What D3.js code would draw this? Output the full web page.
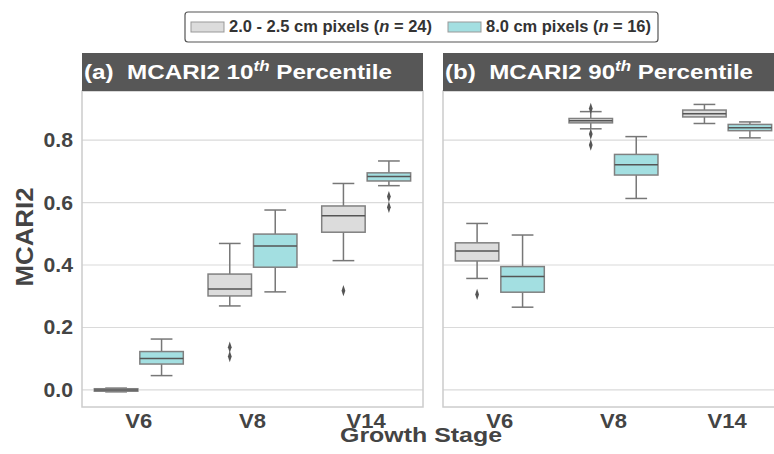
<!DOCTYPE html>
<html>
<head>
<meta charset="utf-8">
<script src="https://cdn.jsdelivr.net/npm/d3@7"></script>
<style>
  body { margin: 0; background: #fff; }
  text { font-family: "Liberation Sans", Arial, sans-serif; font-weight: bold; }
</style>
</head>
<body>
<svg id="chart" width="774" height="454"></svg>
<script>
// growth stages (x categories)
var stages = ["V6", "V8", "V14"];
var groups = ["2.0 - 2.5 cm pixels", "8.0 cm pixels"];
var groupN = [24, 16];
var yTicks = [0.0, 0.2, 0.4, 0.6, 0.8];

// box stats per stage: [whiskerLow, q1, median, q3, whiskerHigh]
var p10Fine   = [[-0.006, -0.004, 0.000, 0.004, 0.006], [0.269, 0.301, 0.323, 0.371, 0.469], [0.414, 0.505, 0.558, 0.589, 0.661]];
var p10Coarse = [[0.046, 0.083, 0.101, 0.123, 0.163], [0.314, 0.393, 0.461, 0.499, 0.576], [0.654, 0.669, 0.683, 0.695, 0.733]];
var p90Fine   = [[0.357, 0.413, 0.445, 0.471, 0.533], [0.836, 0.855, 0.862, 0.869, 0.891], [0.853, 0.874, 0.884, 0.896, 0.914]];
var p90Coarse = [[0.265, 0.313, 0.363, 0.395, 0.496], [0.613, 0.688, 0.721, 0.754, 0.811], [0.807, 0.830, 0.839, 0.850, 0.858]];

// outliers per stage
var p10FineOut   = [[], [0.137, 0.107], [0.318]];
var p10CoarseOut = [[], [], [0.619, 0.585]];
var p90FineOut   = [[0.306], [0.901, 0.819, 0.784], []];
var p90CoarseOut = [[], [], []];

var colors = ["#dcdcdc", "#a3dfe1"];

var svg = d3.select("#chart");

var y = d3.scaleLinear().domain([-0.0545, 0.957]).range([407, 91]);

// the figure's font runs a bit wider than Liberation, stretch to fit
function widen(sel, k) {
  sel.each(function() {
    var w = this.getComputedTextLength();
    d3.select(this).attr("textLength", w * k).attr("lengthAdjust", "spacingAndGlyphs");
  });
}

var panels = [
  { x0: 82, label: "(a)  MCARI2 10", pct: [p10Fine, p10Coarse], out: [p10FineOut, p10CoarseOut], ticks: true },
  { x0: 443, label: "(b)  MCARI2 90", pct: [p90Fine, p90Coarse], out: [p90FineOut, p90CoarseOut], ticks: false }
];
var panelW = 341;

panels.forEach(function(p) {
  var g = svg.append("g");
  var x = d3.scaleBand().domain(stages).range([p.x0, p.x0 + panelW]);
  var xs = d3.scaleBand().domain([0, 1]).range([0, x.bandwidth() * 0.8]);

  // grid
  g.selectAll(".grid").data(yTicks).enter().append("line")
    .attr("x1", p.x0).attr("x2", p.x0 + panelW)
    .attr("y1", function(d) { return y(d); }).attr("y2", function(d) { return y(d); })
    .attr("stroke", "#dadada").attr("stroke-width", 1.2);

  // frame
  g.append("rect").attr("x", p.x0).attr("y", 91).attr("width", panelW).attr("height", 316)
    .attr("fill", "none").attr("stroke", "#cccccc").attr("stroke-width", 1.5);

  // title bar
  g.append("rect").attr("x", p.x0).attr("y", 53).attr("width", panelW).attr("height", 38).attr("fill", "#575757");
  var t = g.append("text").attr("x", p.x0 + 2).attr("y", 79).attr("fill", "#fff")
    .style("font-size", "20px").attr("xml:space", "preserve");
  t.append("tspan").text(p.label);
  t.append("tspan").attr("dy", -8).style("font-size", "14px").style("font-style", "italic").text("th");
  t.append("tspan").attr("dy", 8).text(" Percentile");
  t.attr("textLength", 308).attr("lengthAdjust", "spacingAndGlyphs");

  // x tick labels
  g.selectAll(".xt").data(stages).enter().append("text")
    .attr("x", function(d) { return x(d) + x.bandwidth() / 2; })
    .attr("y", 428).attr("text-anchor", "middle").attr("fill", "#444")
    .style("font-size", "20px").text(function(d) { return d; })
    .call(widen, 1.1);

  // boxes
  [0, 1].forEach(function(gi) {
    stages.forEach(function(s, si) {
      var st = p.pct[gi][si];
      var bx = x(s) + x.bandwidth() * 0.1 + xs(gi) + 1;
      var bw = xs.bandwidth() - 2;
      var cx = bx + bw / 2;
      var bg = g.append("g");
      bg.append("line").attr("x1", cx).attr("x2", cx).attr("y1", y(st[0])).attr("y2", y(st[1]))
        .attr("stroke", "#777").attr("stroke-width", 1.5);
      bg.append("line").attr("x1", cx).attr("x2", cx).attr("y1", y(st[3])).attr("y2", y(st[4]))
        .attr("stroke", "#777").attr("stroke-width", 1.5);
      [st[0], st[4]].forEach(function(v) {
        bg.append("line").attr("x1", cx - bw / 4).attr("x2", cx + bw / 4).attr("y1", y(v)).attr("y2", y(v))
          .attr("stroke", "#777").attr("stroke-width", 1.5);
      });
      bg.append("rect").attr("x", bx).attr("width", bw)
        .attr("y", y(st[3])).attr("height", Math.max(y(st[1]) - y(st[3]), 1))
        .attr("fill", colors[gi]).attr("stroke", "#808080").attr("stroke-width", 1.5);
      bg.append("line").attr("x1", bx).attr("x2", bx + bw).attr("y1", y(st[2])).attr("y2", y(st[2]))
        .attr("stroke", "#555").attr("stroke-width", 1.5);
      p.out[gi][si].forEach(function(v) {
        bg.append("path").attr("d", d3.symbol().type(d3.symbolDiamond).size(22)())
          .attr("transform", "translate(" + cx + "," + y(v) + ") scale(0.75,1.3)")
          .attr("fill", "#555");
      });
    });
  });

  if (p.ticks) {
    g.selectAll(".yt").data(yTicks).enter().append("text")
      .attr("x", 73).attr("y", function(d) { return y(d) + 7; })
      .attr("text-anchor", "end").attr("fill", "#444").style("font-size", "20px")
      .text(function(d) { return d3.format(".1f")(d); })
      .call(widen, 1.06);
  }
});

// axis titles
svg.append("text").attr("transform", "translate(33,237) rotate(-90)")
  .attr("text-anchor", "middle").attr("fill", "#444").style("font-size", "24px").text("MCARI2")
  .attr("textLength", 99).attr("lengthAdjust", "spacingAndGlyphs");
svg.append("text").attr("x", 421).attr("y", 442)
  .attr("text-anchor", "middle").attr("fill", "#444").style("font-size", "21px").text("Growth Stage")
  .attr("textLength", 162).attr("lengthAdjust", "spacingAndGlyphs");

// legend
var lg = svg.append("g");
lg.append("rect").attr("x", 185).attr("y", 12).attr("width", 473).attr("height", 30).attr("rx", 3)
  .attr("fill", "#fff").attr("stroke", "#555").attr("stroke-width", 1.2);
var legX = [191, 448];
var legW = [203, 165];
groups.forEach(function(name, i) {
  lg.append("rect").attr("x", legX[i]).attr("y", 22).attr("width", 33).attr("height", 10)
    .attr("fill", colors[i]).attr("stroke", "#999");
  var lt = lg.append("text").attr("x", legX[i] + 38).attr("y", 32).attr("fill", "#333")
    .style("font-size", "16px").attr("xml:space", "preserve");
  lt.append("tspan").text(name + " (");
  lt.append("tspan").style("font-style", "italic").text("n");
  lt.append("tspan").text(" = " + groupN[i] + ")");
  lt.attr("textLength", legW[i]).attr("lengthAdjust", "spacingAndGlyphs");
});
</script>
</body>
</html>
